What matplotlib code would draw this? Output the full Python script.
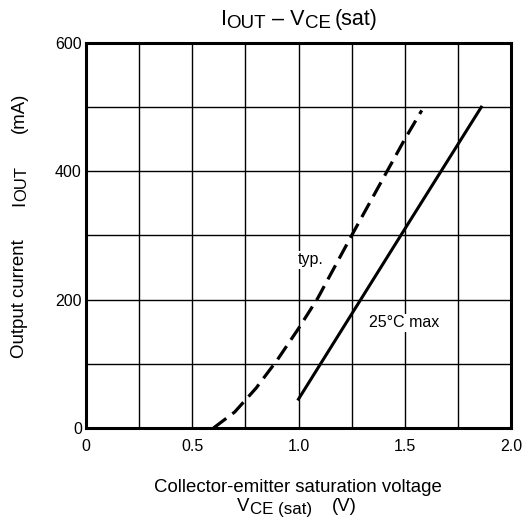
import matplotlib
matplotlib.use("Agg")
import matplotlib.pyplot as plt
from matplotlib.transforms import Affine2D

plt.rcParams['font.family'] = ['Liberation Sans', 'DejaVu Sans']

# curves
vce_typ = [0.60, 0.70, 0.80, 0.90, 1.00, 1.09, 1.25, 1.50, 1.58]
iout_typ = [0, 25, 62, 106, 155, 202, 300, 450, 495]

vce_max = [1.00, 1.50, 1.86]
iout_max = [45, 310, 500]

x_ticks = [0, 0.5, 1.0, 1.5, 2.0]
x_labels = ["0", "0.5", "1.0", "1.5", "2.0"]
y_ticks = [0, 200, 400, 600]


def rich_text(fig, x, y, parts, rot=0):
    # parts: (text, fontsize, drop in px) or a number = gap in px
    r = fig.canvas.get_renderer()
    widths = []
    for p in parts:
        if isinstance(p, (int, float)):
            widths.append(p)
        else:
            t = fig.text(0, 0, p[0], fontsize=p[1])
            widths.append(t.get_window_extent(r).width)
            t.remove()
    pos = -sum(widths) / 2
    for p, w in zip(parts, widths):
        if not isinstance(p, (int, float)):
            s, size, dy = p
            if rot == 0:
                tr = fig.transFigure + Affine2D().translate(pos, -dy)
            else:
                tr = fig.transFigure + Affine2D().translate(dy, pos)
            fig.text(x, y, s, fontsize=size, ha="left", va="baseline",
                     rotation=rot, rotation_mode="anchor", transform=tr)
        pos += w


fig = plt.figure(figsize=(5.25, 5.22), dpi=100)
ax = fig.add_axes([86/525, 1 - 428/522, 425/525, 385/522])

# grid
for gx in [0.25, 0.5, 0.75, 1.0, 1.25, 1.5, 1.75]:
    ax.axvline(gx, color="black", lw=1.0, zorder=1)
for gy in [100, 200, 300, 400, 500]:
    ax.axhline(gy, color="black", lw=1.0, zorder=1)

ax.plot(vce_typ, iout_typ, color="black", lw=2.3, linestyle=(0, (5.0, 2.4)), zorder=3)
ax.plot(vce_max, iout_max, color="black", lw=2.2, zorder=3)

ax.text(0.995, 262, "typ.", fontsize=11.5, ha="left", va="center", zorder=4,
        bbox=dict(facecolor="white", edgecolor="none", pad=1))
ax.text(1.33, 164, "25°C max", fontsize=11.5, ha="left", va="center", zorder=4,
        bbox=dict(facecolor="white", edgecolor="none", pad=1))

ax.set_xlim(0, 2.0)
ax.set_ylim(0, 600)
ax.set_xticks(x_ticks)
ax.set_xticklabels(x_labels)
ax.set_yticks(y_ticks)
ax.tick_params(length=0, labelsize=11.5)
ax.tick_params(axis="x", pad=8)
ax.tick_params(axis="y", pad=3)
for s in ax.spines.values():
    s.set_linewidth(2.2)
    s.set_zorder(5)

# title  I_OUT - V_CE (sat)
rich_text(fig, 299/525, 1 - 25/522,
          [("I", 15.5, 0), ("OUT", 13.5, 2.5), (" – V", 15.5, 0),
           ("CE", 13.5, 2.5), 4, ("(sat)", 15.5, 0)])

# x label
rich_text(fig, 298/525, 1 - 492/522,
          [("Collector-emitter saturation voltage", 13.4, 0)])
rich_text(fig, 297/525, 1 - 511/522,
          [("V", 13.4, 0), ("CE (sat)", 12.2, 3), 20, ("(V)", 13.4, 0)])

# y label
rich_text(fig, 24/525, 1 - 225/522,
          [("Output current", 13.4, 0), 33, ("I", 13.4, 0), ("OUT", 12.0, 2.5),
           33, ("(mA)", 13.4, 0)], rot=90)

fig.savefig("out.png", dpi=100)
